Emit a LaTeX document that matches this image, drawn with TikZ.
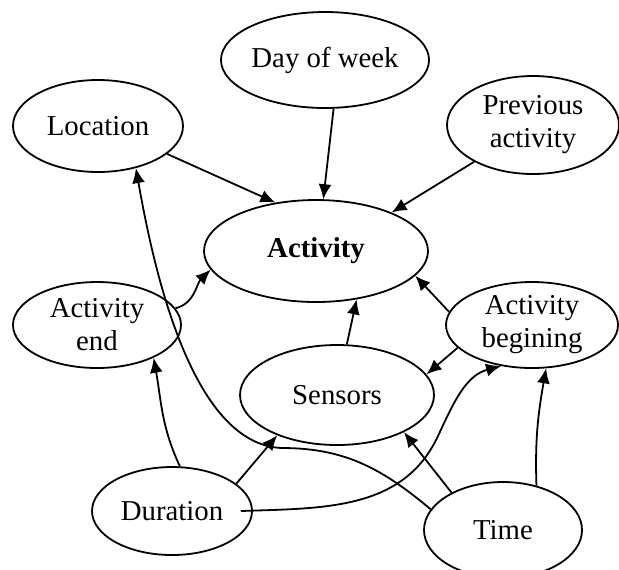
\documentclass[tikz,border=0pt]{standalone}
\usepackage{fontspec}
\setmainfont{Liberation Serif}
\usetikzlibrary{shapes.geometric,arrows.meta}

\begin{document}
\begin{tikzpicture}[x=0.5pt,y=-0.5pt,>={Latex[length=7.5pt,width=6.5pt]},
  state/.style={draw,ellipse,line width=0.9pt,inner sep=0pt,align=center,
    font=\fontsize{14.4}{16.5}\selectfont},
  link/.style={->,line width=0.9pt}]

\useasboundingbox (0,0) rectangle (619,569);

% The factors
\node [state,minimum width=102pt,minimum height=48pt] (day) at (325,60) {Day of week};
\node [state,minimum width=85pt,minimum height=46pt] (loc) at (98,126) {Location};
\node [state,minimum width=86pt,minimum height=49pt] (prev) at (533,125) {Previous\\activity};
\node [state,minimum width=112pt,minimum height=51pt,font=\fontsize{14.4}{16.5}\selectfont\bfseries] (act) at (316,251) {Activity};
\node [state,minimum width=84pt,minimum height=43pt] (end) at (97,325) {Activity\\end};
\node [state,minimum width=86pt,minimum height=43pt] (beg) at (532,325) {Activity\\begining};
\node [state,minimum width=97pt,minimum height=50pt] (sen) at (337,395) {Sensors};
\node [state,minimum width=80pt,minimum height=44pt] (dur) at (172,511) {Duration};
\node [state,minimum width=79pt,minimum height=48pt] (time) at (503,530) {Time};

\coordinate (dip) at (282,448);
\coordinate (rise) at (438,436);

% Into the activity
\draw [link] (loc.-22) -- (act.130);
\draw [link] (day.-80) -- (act.82);
\draw [link] (prev.-148) -- (act.27);
\draw [link] (end.12) to[out=15,in=225] (act.190);
\draw [link] (sen.79) -- (act.-50);
\draw [link] (beg.171) -- (act.-14);

% The other links
\draw [link] (beg.197) -- (sen.13);
\draw [link] (dur.80) to[out=115,in=-80] (end.-30);
\draw [link] (dur.23) -- (sen.-146);
\draw [link] ([xshift=-6pt]dur.east) to[out=2,in=-115] (rise) to[out=65,in=195] (beg.-127);
\draw [link] (time.164) to[out=140,in=0] (dip) to[out=178,in=-80,looseness=0.75] (loc.-48);
\draw [link] (time.144) -- (sen.-29);
\draw [link] (time.53) to[out=92,in=-100] (beg.-72);
\end{tikzpicture}
\end{document}
